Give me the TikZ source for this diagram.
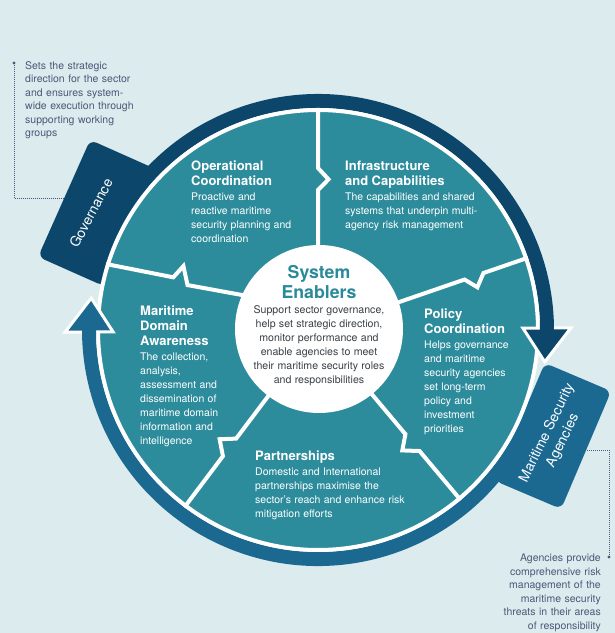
\documentclass[tikz,border=0pt]{standalone}
\usepackage{fontspec}
\setmainfont{TeX Gyre Heros}
\usetikzlibrary{calc}

\definecolor{bgcol}{HTML}{DCEBEE}
\definecolor{segfill}{HTML}{2C8C9C}
\definecolor{navyc}{HTML}{0C476B}
\definecolor{bluec}{HTML}{1B6991}
\definecolor{notec}{HTML}{4A5A78}
\definecolor{ctitle}{HTML}{2B8A9A}
\definecolor{cbody}{HTML}{3A4046}

% title block + body block for one wheel segment
\newcommand{\segblock}[2]{%
  {\fontsize{13}{15}\selectfont\bfseries #1\par}\vspace{0.8pt}%
  {\fontsize{10.5}{14}\selectfont #2\par}}

\begin{document}
\begin{tikzpicture}[x=1pt,y=1pt,
  tabbox/.style={minimum width=128pt, minimum height=72pt, rounded corners=7pt, inner sep=0pt},
  segtext/.style={anchor=north west, inner sep=0pt, text width=160pt, align=left, text=white},
  notetext/.style={inner sep=0pt, text width=140pt, text=notec, font=\fontsize{10.5}{13.5}\selectfont},
  leader/.style={notec, line width=0.8pt, dash pattern=on 0.8pt off 1.2pt},
  sep/.style={white, line width=4pt, line join=miter},
  head/.style={draw=white, line width=3pt, line join=miter}]

\useasboundingbox (0,0) rectangle (615,633);
\fill[bgcol] (0,0) rectangle (615,633);
\coordinate (C) at (318,303);

% tabs where the two outer arrows start
\node[tabbox, fill=navyc, rotate=66] (gov) at (97,420) {};
\node[tabbox, fill=bluec, rotate=67] (ag) at (553,197) {};

% outer arrow bands
\draw[navyc, line width=14pt] ($(C)+(150:229)$) arc[start angle=150, end angle=0.5, radius=229];
\draw[bluec, line width=14pt] ($(C)+(-24:229)$) arc[start angle=-24, end angle=-179.5, radius=229];

% the wheel
\fill[segfill] (C) circle[radius=220];
\draw[white, line width=4pt] (C) circle[radius=220];

% segment borders with their puzzle notches
\begin{scope}[shift={(C)}]
  \draw[sep] (90:222) -- (90:162) -- (86:151) -- (90:140) -- (90:80);
  \draw[sep] (19:222) -- (19:175) -- (15:165) -- (19:155) -- (19:80);
  \draw[sep] (-50:222) -- (-50:158) -- (-55:147) -- (-50:136) -- (-50:80);
  \draw[sep] (-127:222) -- (-127:158) -- (-132:147) -- (-127:136) -- (-127:80);
  \draw[sep] (162.7:222) -- (160:154) -- (154.6:149) -- (161:138) -- (154.6:80);
\end{scope}

% hub
\node[circle, fill=white, minimum size=168pt, inner sep=0pt] (hub) at (319,304) {};

% arrowheads
\filldraw[head, fill=navyc] ($(C)+(0.5:205)$) -- ($(C)+(0.5:253)$) -- ($(C)+(-8:229)$) -- cycle;
\draw[navyc, line width=14pt] ($(C)+(2.5:229)$) arc[start angle=2.5, end angle=-1, radius=229];
\filldraw[head, fill=bluec] ($(C)+(180.5:205)$) -- ($(C)+(180.5:253)$) -- ($(C)+(172:229)$) -- cycle;
\draw[bluec, line width=14pt] ($(C)+(182.5:229)$) arc[start angle=182.5, end angle=179, radius=229];

% tab labels
\node[rotate=62, text=white, font=\fontsize{14}{16}\selectfont] (govlabel) at (91,420) {Governance};
\node[rotate=64, text=white, align=center, font=\fontsize{14}{17.5}\selectfont] (aglabel) at (555,196) {Maritime Security\\Agencies};

% segment texts
\node[segtext] (op) at (191,472) {\segblock{Operational\\Coordination}{Proactive and\\reactive maritime\\security planning and\\coordination}};
\node[segtext] (infra) at (345,472) {\segblock{Infrastructure\\and Capabilities}{The capabilities and shared\\systems that underpin multi-\\agency risk management}};
\node[segtext] (mda) at (140,327) {\segblock{Maritime\\Domain\\Awareness}{The collection,\\analysis,\\assessment and\\dissemination of\\maritime domain\\information and\\intelligence}};
\node[segtext] (policy) at (424,324) {\segblock{Policy\\Coordination}{Helps governance\\and maritime\\security agencies\\set long-term\\policy and\\investment\\priorities}};
\node[segtext] (part) at (255,182) {\segblock{Partnerships}{Domestic and International\\partnerships maximise the\\sector's reach and enhance risk\\mitigation efforts}};

% hub text
\node[anchor=north, inner sep=0pt, text width=200pt, align=center] (hubtext) at (319,368)
  {{\fontsize{17.7}{20}\selectfont\bfseries\color{ctitle}System\\Enablers\par}\vspace{1pt}%
   {\fontsize{10.6}{14}\selectfont\color{cbody}Support sector governance,\\help set strategic direction,\\monitor performance and\\enable agencies to meet\\their maritime security roles\\and responsibilities\par}};

% side notes with their leaders
\node[notetext, anchor=north west, align=left] (govnote) at (25,572)
  {Sets the strategic\\direction for the sector\\and ensures system-\\wide execution through\\supporting working\\groups};
\node[notetext, anchor=north east, align=right] (agnote) at (601,79)
  {Agencies provide\\comprehensive risk\\management of the\\maritime security\\threats in their areas\\of responsibility};

\coordinate (govdot) at (14,570);
\coordinate (agdot) at (609,76);
\draw[leader] (govdot) |- (gov.north);
\draw[leader] (agdot) |- (ag.south);
\fill[notec] (govdot) circle[radius=1.6];
\fill[notec] (agdot) circle[radius=1.6];
\end{tikzpicture}
\end{document}
